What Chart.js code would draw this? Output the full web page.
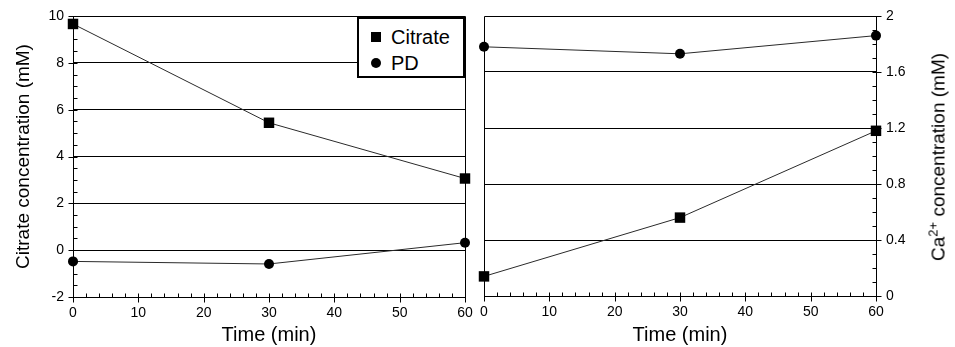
<!DOCTYPE html>
<html>
<head>
<meta charset="utf-8">
<script src="https://cdn.jsdelivr.net/npm/chart.js@4/dist/chart.umd.min.js"></script>
<style>
  body { margin: 0; background: #fff; font-family: "Liberation Sans", Arial, sans-serif; }
  #wrap { position: relative; width: 955px; height: 347px; overflow: hidden; }
  .panel { position: absolute; top: 0; }
  .legend {
    position: absolute; left: 357px; top: 17px; width: 104px; height: 57px;
    border: 2px solid #000; background: #fff; font-size: 20px; color: #000;
  }
  .legend .row { position: absolute; left: 0; height: 24px; line-height: 24px; }
  .legend .mark { position: absolute; background: #000; }
  .legend .txt { position: absolute; left: 32px; white-space: nowrap; }
  .ytitle {
    position: absolute; white-space: nowrap; font-size: 19px; line-height: 1;
    transform: translate(-50%, -50%) rotate(-90deg);
  }
  .ytitle sup { font-size: 13px; vertical-align: 7px; line-height: 0; }
</style>
</head>
<body>
<div id="wrap">
  <div class="panel" style="left:0"><canvas id="citrateChart" width="475" height="347"></canvas></div>
  <div class="panel" style="left:476px"><canvas id="calciumChart" width="479" height="347"></canvas></div>
  <div class="legend">
    <div class="row" style="top:6px"><span class="mark" style="left:12px;top:7px;width:10px;height:10px"></span><span class="txt">Citrate</span></div>
    <div class="row" style="top:32px"><span class="mark" style="left:12px;top:7px;width:10px;height:10px;border-radius:50%"></span><span class="txt">PD</span></div>
  </div>
  <div class="ytitle" id="caTitle" style="left:938px; top:157px">Ca<sup>2+</sup> concentration (mM)</div>
</div>
<script>
// sampling times (min)
const timeMin = [0, 30, 60];
// left panel: citrate concentration (mM)
const citrateLeft = [9.66, 5.44, 3.06];
const pdLeft = [-0.48, -0.59, 0.32];
// right panel: Ca2+ concentration (mM)
const citrateCa = [0.14, 0.56, 1.18];
const pdCa = [1.78, 1.73, 1.86];

const FONT = "'Liberation Sans', Arial, sans-serif";

function toPoints(values) {
  return timeMin.map((t, i) => ({ x: t, y: values[i] }));
}

function series(label, values, style) {
  return {
    label: label,
    data: toPoints(values),
    borderColor: '#2a2a2a',
    borderWidth: 1,
    clip: false,
    pointStyle: style,
    pointRadius: style === 'rect' ? 7.4 : 5,
    pointBackgroundColor: '#000',
    pointBorderColor: '#000',
    pointBorderWidth: 0,
  };
}

// frame round the plot + small inward minor ticks, outward major ticks
const tickMarks = {
  id: 'tickMarks',
  afterDraw(chart, args, opts) {
    const { ctx, chartArea: a } = chart;
    const xs = chart.scales.x, ys = chart.scales.y;
    const px = v => Math.round(v) + 0.5;
    ctx.save();
    ctx.strokeStyle = '#000';
    ctx.lineWidth = 1;
    ctx.beginPath();
    ctx.rect(px(a.left), px(a.top), Math.round(a.right) - Math.round(a.left), Math.round(a.bottom) - Math.round(a.top));

    const nx = Math.round((xs.max - xs.min) / opts.xMinor);
    for (let i = 0; i <= nx; i++) {
      const v = xs.min + i * opts.xMinor;
      const x = px(xs.getPixelForValue(v));
      const y0 = px(a.bottom);
      const major = Math.abs(v / opts.xMajor - Math.round(v / opts.xMajor)) < 1e-6;
      ctx.moveTo(x, major ? y0 + 5 : y0);
      ctx.lineTo(x, y0 - 4);
    }

    const left = ys.position === 'left';
    const x0 = px(left ? a.left : a.right);
    const dir = left ? 1 : -1;
    const ny = Math.round((ys.max - ys.min) / opts.yMinor);
    for (let i = 0; i <= ny; i++) {
      const v = ys.min + i * opts.yMinor;
      const y = px(ys.getPixelForValue(v));
      const major = Math.abs(v / opts.yMajor - Math.round(v / opts.yMajor)) < 1e-6;
      ctx.moveTo(major ? x0 - dir * 5 : x0, y);
      ctx.lineTo(x0 + dir * 4, y);
    }
    ctx.stroke();
    ctx.restore();
  }
};

function xScale(height) {
  return {
    type: 'linear',
    min: 0,
    max: 60,
    ticks: { stepSize: 10, color: '#000', font: { family: FONT, size: 14 }, padding: 8, maxRotation: 0 },
    grid: { display: false, drawTicks: false },
    border: { display: false },
    title: { display: true, text: 'Time (min)', color: '#000', font: { family: FONT, size: 20, lineHeight: 1.2 }, padding: { top: 0, bottom: 0 } },
    afterFit: (scale) => {
      scale.height = height;
      scale.paddingLeft = 0;
      scale.paddingRight = 0;
    }
  };
}

function gridColor(lo, hi) {
  return (ctx) => (ctx.tick && (Math.abs(ctx.tick.value - lo) < 1e-6 || Math.abs(ctx.tick.value - hi) < 1e-6)) ? 'rgba(0,0,0,0)' : '#000';
}

function fixWidth(w) {
  return (scale) => {
    scale.width = w;
    scale.paddingTop = 0;
    scale.paddingBottom = 0;
  };
}

new Chart(document.getElementById('citrateChart'), {
  type: 'line',
  data: {
    datasets: [series('Citrate', citrateLeft, 'rect'), series('PD', pdLeft, 'circle')]
  },
  options: {
    responsive: false,
    animation: false,
    events: [],
    layout: { padding: { top: 16, right: 10, left: 0, bottom: 0 } },
    scales: {
      x: xScale(50),
      y: {
        type: 'linear',
        min: -2,
        max: 10,
        ticks: { stepSize: 2, color: '#000', font: { family: FONT, size: 14 }, padding: 9 },
        grid: { color: gridColor(-2, 10), lineWidth: 1, drawTicks: false },
        border: { display: false },
        title: { display: true, text: 'Citrate concentration (mM)', color: '#000', font: { family: FONT, size: 19, lineHeight: 1.2 }, padding: { top: 12, bottom: 0 } },
        afterFit: fixWidth(73)
      }
    },
    plugins: {
      legend: { display: false },
      tooltip: { enabled: false },
      tickMarks: { xMinor: 2, xMajor: 10, yMinor: 0.5, yMajor: 2 }
    }
  },
  plugins: [tickMarks]
});

new Chart(document.getElementById('calciumChart'), {
  type: 'line',
  data: {
    datasets: [series('Citrate', citrateCa, 'rect'), series('PD', pdCa, 'circle')]
  },
  options: {
    responsive: false,
    animation: false,
    events: [],
    layout: { padding: { top: 16, right: 0, left: 8, bottom: 0 } },
    scales: {
      x: xScale(51),
      y: {
        type: 'linear',
        position: 'right',
        min: 0,
        max: 2,
        ticks: {
          stepSize: 0.4,
          color: '#000',
          font: { family: FONT, size: 14 },
          padding: 10,
          callback: (v) => String(Math.round(v * 10) / 10)
        },
        grid: { color: gridColor(0, 2), lineWidth: 1, drawTicks: false },
        border: { display: false },
        title: { display: false },
        afterFit: fixWidth(79)
      }
    },
    plugins: {
      legend: { display: false },
      tooltip: { enabled: false },
      tickMarks: { xMinor: 2, xMajor: 10, yMinor: 0.1, yMajor: 0.4 }
    }
  },
  plugins: [tickMarks]
});
</script>
</body>
</html>
